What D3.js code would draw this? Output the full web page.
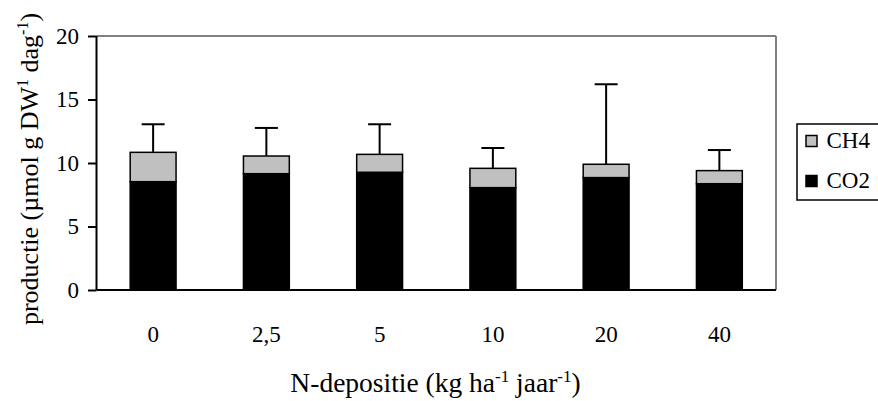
<!DOCTYPE html>
<html>
<head>
<meta charset="utf-8">
<script src="https://cdn.jsdelivr.net/npm/d3@7"></script>
<style>
  html, body { margin: 0; padding: 0; background: #fff; }
  svg { display: block; }
</style>
</head>
<body>
<svg id="chart" width="878" height="401"></svg>
<script>
const categories = ["0", "2,5", "5", "10", "20", "40"];
const co2Values = [8.53, 9.16, 9.27, 8.06, 8.85, 8.37];
const ch4Values = [2.31, 1.39, 1.41, 1.52, 1.05, 1.03];
const errValues = [2.21, 2.21, 2.37, 1.60, 6.30, 1.62];
const yTicks = [0, 5, 10, 15, 20];
const seriesNames = ["CH4", "CO2"];
const seriesColors = ["#c0c0c0", "#000000"];

const FONT = '"Liberation Serif"';
const svg = d3.select("#chart");
const margin = { left: 96.5, right: 102, top: 36, bottom: 111 };
const W = 878, H = 401;
const x0 = margin.left, x1 = W - margin.right;
const y0 = H - margin.bottom, y1 = margin.top;

const x = d3.scaleBand().domain(categories).range([x0, x1]).paddingInner(0.595).paddingOuter(0.2975);
const y = d3.scaleLinear().domain([0, 20]).range([y0, y1]);

const data = categories.map((c, i) => ({ cat: c, CO2: co2Values[i], CH4: ch4Values[i], err: errValues[i] }));
const stacked = d3.stack().keys(["CO2", "CH4"])(data);
const colorOf = { CO2: seriesColors[1], CH4: seriesColors[0] };

// top & right border gray
svg.append("line").attr("x1", x0).attr("x2", x1).attr("y1", y1).attr("y2", y1)
  .attr("stroke", "#808080").attr("stroke-width", 2);
svg.append("line").attr("x1", x1).attr("x2", x1).attr("y1", y1).attr("y2", y0)
  .attr("stroke", "#808080").attr("stroke-width", 2);

// bars
stacked.forEach(layer => {
  svg.append("g").selectAll("rect").data(layer).join("rect")
    .attr("x", d => x(d.data.cat))
    .attr("width", x.bandwidth())
    .attr("y", d => y(d[1]))
    .attr("height", d => y(d[0]) - y(d[1]))
    .attr("fill", colorOf[layer.key])
    .attr("stroke", "#000")
    .attr("stroke-width", 1.5);
});

// error bars
const eg = svg.append("g").attr("stroke", "#000").attr("stroke-width", 2);
data.forEach(d => {
  const cx = x(d.cat) + x.bandwidth() / 2;
  const top = d.CO2 + d.CH4;
  eg.append("line").attr("x1", cx).attr("x2", cx).attr("y1", y(top)).attr("y2", y(top + d.err));
  eg.append("line").attr("x1", cx - 11.5).attr("x2", cx + 11.5).attr("y1", y(top + d.err)).attr("y2", y(top + d.err));
});

// y axis
const yAxis = d3.axisLeft(y).tickValues(yTicks).tickSize(8.5).tickPadding(9).tickFormat(d3.format("d"));
const yg = svg.append("g").attr("transform", `translate(${x0},0)`).call(yAxis)
  .attr("font-family", null).attr("font-size", null);
yg.select(".domain").attr("stroke", "#000").attr("stroke-width", 2).attr("d", `M0,${y1}V${y0}`);
yg.selectAll(".tick line").attr("stroke", "#000").attr("stroke-width", 2);
yg.selectAll(".tick text").style("font-family", FONT).style("font-size", "23px").attr("fill", "#000");

// x axis
const xAxis = d3.axisBottom(x).tickSize(0).tickPadding(34);
const xg = svg.append("g").attr("transform", `translate(0,${y0})`).call(xAxis)
  .attr("font-family", null).attr("font-size", null);
xg.select(".domain").attr("stroke", "#000").attr("stroke-width", 2).attr("d", `M${x0},0H${x1}`);
xg.selectAll(".tick text").style("font-family", FONT).style("font-size", "23px").attr("fill", "#000")
  .attr("dy", null).attr("y", 51.5);

// x title
const xt = svg.append("text").attr("x", 435.5).attr("y", 392).attr("text-anchor", "middle")
  .style("font-family", FONT).style("font-size", "27.5px");
xt.append("tspan").text("N-depositie (kg ha");
xt.append("tspan").attr("dy", -10).style("font-size", "17px").text("-1");
xt.append("tspan").attr("dy", 10).text(" jaar");
xt.append("tspan").attr("dy", -10).style("font-size", "17px").text("-1");
xt.append("tspan").attr("dy", 10).text(")");

// y title
const yt = svg.append("text").attr("transform", "translate(38,169) rotate(-90)").attr("text-anchor", "middle")
  .style("font-family", FONT).style("font-size", "26px");
yt.append("tspan").text("productie (µmol g DW");
yt.append("tspan").attr("dy", -10).style("font-size", "16px").text("1");
yt.append("tspan").attr("dy", 10).text(" dag");
yt.append("tspan").attr("dy", -10).style("font-size", "16px").text("-1");
yt.append("tspan").attr("dy", 10).text(")");

// legend
const lg = svg.append("g");
lg.append("rect").attr("x", 797).attr("y", 124).attr("width", 90).attr("height", 76)
  .attr("fill", "#fff").attr("stroke", "#000").attr("stroke-width", 1.5);
seriesNames.forEach((name, i) => {
  const cy = 141 + i * 40;
  lg.append("rect").attr("x", 806).attr("y", cy - 5.5).attr("width", 11).attr("height", 11)
    .attr("fill", seriesColors[i]).attr("stroke", "#000").attr("stroke-width", 1.5);
  lg.append("text").attr("x", 826.5).attr("y", cy + 7).style("font-family", FONT).style("font-size", "23px").text(name);
});
</script>
</body>
</html>
